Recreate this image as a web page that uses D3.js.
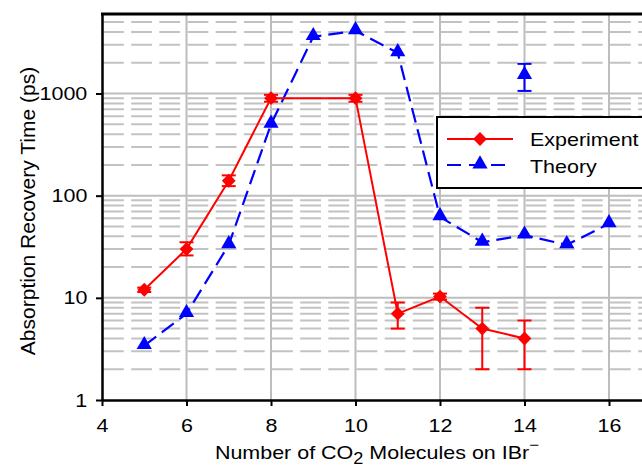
<!DOCTYPE html>
<meta charset="utf-8">
<style>
body{ margin:0; background:#fff; }
text{ font-family:"Liberation Sans", Arial, sans-serif; fill:#000; }
.tick text{ font-size:19px; }
.grid-major{ stroke:#bdbdbd; stroke-width:2; }
.grid-minor{ stroke:#c2c2c2; stroke-width:2; }
</style>
<body>
<script src="https://d3js.org/d3.v7.min.js"></script>
<script>

// ---------- data ----------
var expN      = [5, 6, 7, 8, 10, 11, 12, 13, 14];
var expTime   = [12, 30, 140, 900, 900, 7, 10.3, 5, 4];
var expLow    = [11.4, 26, 124, 830, 830, 5, 9.6, 2, 2];
var expHigh   = [12.6, 35, 158, 970, 970, 9, 11, 8, 6];

var theoryN    = [5, 6, 7, 8, 9, 10, 11, 12, 13, 14, 15, 16];
var theoryTime = [3.4, 7, 33, 500, 3600, 4100, 2500, 62, 35, 41, 33, 53];

// lone theory point with error bar
var extraN = [14], extraTime = [1500], extraLow = [1060], extraHigh = [1950];

var xTicks = [4, 6, 8, 10, 12, 14, 16];
var yTicks = [1, 10, 100, 1000];

var W = 642, H = 468;
var SX = 1.13;   // text in the picture is a bit wider than tall
var svg = d3.select("body").append("svg").attr("width", W).attr("height", H);

var x = d3.scaleLinear().domain([4, 18]).range([102, 693.5]);
var y = d3.scaleLog().domain([1, 6000]).range([400, 14]);

// ---------- grid ----------
var minor = [];
[1, 10, 100, 1000].forEach(function(d){
    for (var k = 2; k <= 9; k++) if (d * k < 6000) minor.push(d * k);
});
var period = (x(6) - x(4)) / 3;
svg.append("g").selectAll("line").data(minor).enter().append("line")
    .attr("class", "grid-minor")
    .attr("x1", x(4) + 1).attr("x2", x(18))
    .attr("y1", d => y(d)).attr("y2", d => y(d))
    .attr("stroke-dasharray", (period * 0.74) + "," + (period * 0.26));

svg.append("g").selectAll("line").data([10, 100, 1000]).enter().append("line")
    .attr("class", "grid-major")
    .attr("x1", x(4)).attr("x2", x(18))
    .attr("y1", d => y(d)).attr("y2", d => y(d));

svg.append("g").selectAll("line").data([6, 8, 10, 12, 14, 16, 18]).enter().append("line")
    .attr("class", "grid-major")
    .attr("x1", d => x(d)).attr("x2", d => x(d))
    .attr("y1", y(6000)).attr("y2", y(1));

// ---------- axes ----------
var xAxis = svg.append("g").attr("transform", "translate(0," + y(1) + ")")
    .call(d3.axisBottom(x).tickValues(xTicks).tickSizeInner(6).tickSizeOuter(0).tickPadding(13));
var yAxis = svg.append("g").attr("transform", "translate(" + x(4) + ",0)")
    .call(d3.axisLeft(y).tickValues(yTicks).tickFormat(d3.format("d")).tickSizeInner(6).tickSizeOuter(0).tickPadding(7));
[xAxis, yAxis].forEach(function(a){
    a.select(".domain").attr("stroke", "#000").attr("stroke-width", 2.5);
    a.selectAll(".tick line").attr("stroke", "#000").attr("stroke-width", 2);
    a.selectAll(".tick text").attr("transform", "scale(" + SX + ",1)");
});
svg.append("line").attr("x1", x(4) - 1).attr("x2", W)
    .attr("y1", y(6000)).attr("y2", y(6000))
    .attr("stroke", "#000").attr("stroke-width", 3);

// ---------- series ----------
var exp = expN.map((n, i) => ({n: n, v: expTime[i], lo: expLow[i], hi: expHigh[i]}));
var theory = theoryN.map((n, i) => ({n: n, v: theoryTime[i]}));
var extra = extraN.map((n, i) => ({n: n, v: extraTime[i], lo: extraLow[i], hi: extraHigh[i]}));

var line = d3.line().x(d => x(d.n)).y(d => y(d.v));

function errorBars(data, color){
    var g = svg.append("g").attr("stroke", color).attr("stroke-width", 2);
    data.forEach(function(d){
        g.append("line").attr("x1", x(d.n)).attr("x2", x(d.n)).attr("y1", y(d.lo)).attr("y2", y(d.hi));
        g.append("line").attr("x1", x(d.n) - 7).attr("x2", x(d.n) + 7).attr("y1", y(d.lo)).attr("y2", y(d.lo));
        g.append("line").attr("x1", x(d.n) - 7).attr("x2", x(d.n) + 7).attr("y1", y(d.hi)).attr("y2", y(d.hi));
    });
}

svg.append("path").datum(theory).attr("d", line)
    .attr("fill", "none").attr("stroke", "#0000ff").attr("stroke-width", 2.2)
    .attr("stroke-dasharray", "15,7");
errorBars(extra, "#0000ff");

var tri = d3.symbol().type(d3.symbolTriangle).size(100);
svg.append("g").selectAll("path").data(theory.concat(extra)).enter().append("path")
    .attr("d", tri).attr("fill", "#0000ff")
    .attr("transform", d => "translate(" + x(d.n) + "," + (y(d.v) - 1) + ")");

svg.append("path").datum(exp).attr("d", line)
    .attr("fill", "none").attr("stroke", "#ff0000").attr("stroke-width", 2);
errorBars(exp, "#ff0000");

var diamond = d3.symbol().type(d3.symbolSquare).size(95);
svg.append("g").selectAll("path").data(exp).enter().append("path")
    .attr("d", diamond).attr("fill", "#ff0000")
    .attr("transform", d => "translate(" + x(d.n) + "," + y(d.v) + ") rotate(45)");

// ---------- legend ----------
var lg = svg.append("g");
lg.append("rect").attr("x", 437).attr("y", 117).attr("width", 240).attr("height", 71)
    .attr("fill", "#fff").attr("stroke", "#000").attr("stroke-width", 2);
lg.append("line").attr("x1", 447).attr("x2", 513).attr("y1", 139).attr("y2", 139)
    .attr("stroke", "#ff0000").attr("stroke-width", 2);
lg.append("path").attr("d", diamond).attr("fill", "#ff0000")
    .attr("transform", "translate(480,139) rotate(45)");
lg.append("line").attr("x1", 447).attr("x2", 513).attr("y1", 165).attr("y2", 165)
    .attr("stroke", "#0000ff").attr("stroke-width", 2.2).attr("stroke-dasharray", "14,8");
lg.append("path").attr("d", tri).attr("fill", "#0000ff")
    .attr("transform", "translate(480,164)");
lg.append("text").attr("transform", "translate(530,146) scale(" + SX + ",1)")
    .style("font-size", "19px").text("Experiment");
lg.append("text").attr("transform", "translate(530,173) scale(" + SX + ",1)")
    .style("font-size", "19px").text("Theory");

// ---------- titles ----------
var xt = svg.append("text").attr("transform", "translate(377,459) scale(" + SX + ",1)")
    .attr("text-anchor", "middle").style("font-size", "19px");
xt.append("tspan").text("Number of CO");
xt.append("tspan").attr("dy", 5).style("font-size", "16px").text("2");
xt.append("tspan").attr("dy", -5).text(" Molecules on IBr");
xt.append("tspan").attr("dy", -9).style("font-size", "15px").text("\u2212");

svg.append("text").attr("transform", "translate(35,211) rotate(-90)")
    .attr("text-anchor", "middle").style("font-size", "21px")
    .text("Absorption Recovery Time (ps)");
</script>
</body>
</html>
